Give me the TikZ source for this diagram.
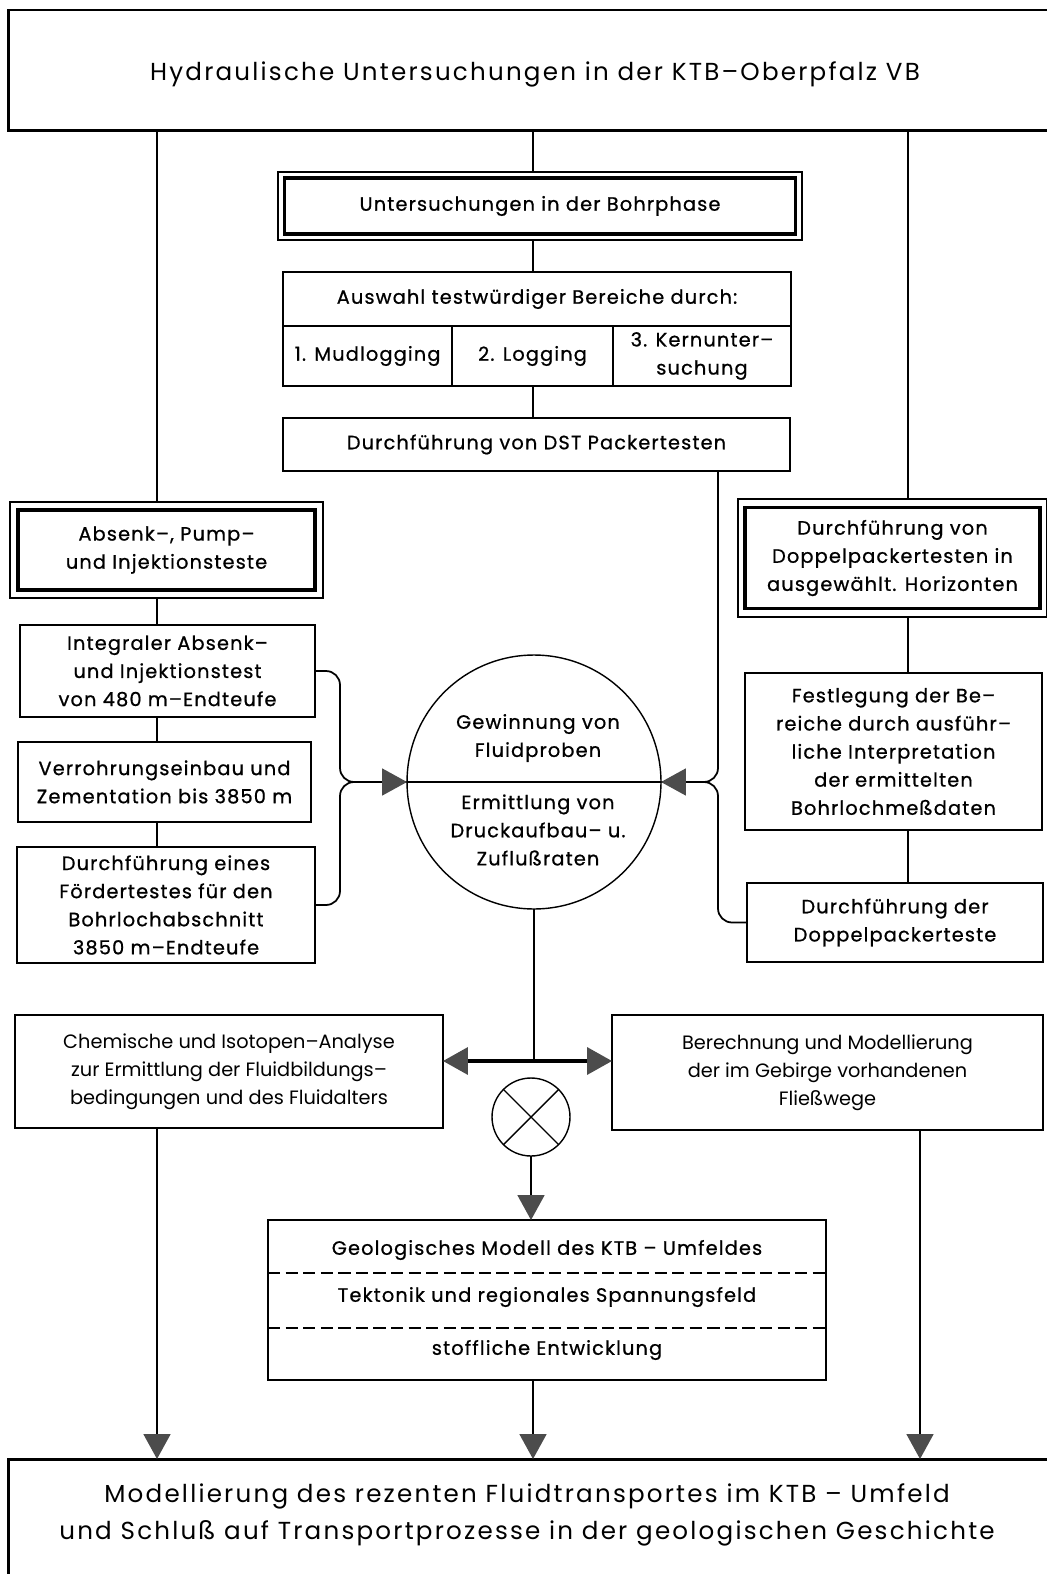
\documentclass[tikz,border=0pt]{standalone}
\usepackage{fontspec}
\setmainfont{Poppins}
\newfontfamily\boxfont{Poppins}[LetterSpace=6,FakeBold=0.8]
\newfontfamily\titlefont{Poppins}[LetterSpace=9]
\newfontfamily\plainfont{Poppins}
\usepackage{xcolor}
\usepackage{tikz}
\usetikzlibrary{calc,positioning,arrows.meta}

\definecolor{tipgray}{gray}{0.3}

\begin{document}
\begin{tikzpicture}[x=0.02cm,y=-0.02cm]

\useasboundingbox (0,0) rectangle (1047,1574);

\tikzstyle{box} = [draw, line width=1.1pt, rectangle, outer sep=0pt, inner sep=2pt, align=center, font=\boxfont\fontsize{11}{16}\selectfont]
\tikzstyle{plainbox} = [box, font=\plainfont\fontsize{11}{16}\selectfont]
\tikzstyle{inbox} = [box, line width=1.9pt]
\tikzstyle{frame} = [draw, line width=0.8pt, rectangle, outer sep=0pt]
\tikzstyle{bigbox} = [draw, line width=1.7pt, rectangle, outer sep=0pt]
\tikzstyle{bigtext} = [align=center, font=\titlefont\fontsize{14}{21}\selectfont]
\tikzstyle{smalltext} = [align=center, font=\boxfont\fontsize{11}{16}\selectfont]
\tikzstyle{link} = [line width=1pt]
\tikzstyle{tip} = [-{Triangle[length=0.5cm,width=0.54cm,color=tipgray]}]

% columns and junctions
\coordinate (colL) at (157,0);
\coordinate (colM) at (533,0);
\coordinate (colR) at (908,0);
\coordinate (colRb) at (920,0);
\coordinate (jL) at (340,782);
\coordinate (jR) at (718,782);
\coordinate (jD) at (534,1061);

% top
\node (top) [bigbox, minimum width=21.04cm, minimum height=2.42cm] at (534,70.5) {};
\node (toptext) [bigtext] at (535,74) {Hydraulische Untersuchungen in der KTB–Oberpfalz VB};

% middle column
\node (bohrF) [frame, minimum width=10.48cm, minimum height=1.36cm] at (540,206) {};
\node (bohr) [inbox, minimum width=10.22cm, minimum height=1.12cm] at (540,206) {Untersuchungen in der Bohrphase};

\node (auswahl) [box, minimum width=10.16cm, minimum height=1.08cm] at (537,299) {Auswahl testwürdiger Bereiche durch:};
\node (mud) [box, anchor=north west, minimum width=3.38cm, minimum height=1.2cm] at (auswahl.south west) {1. Mudlogging};
\node (logg) [box, anchor=north west, minimum width=3.22cm, minimum height=1.2cm] at (mud.north east) {2. Logging};
\node (kern) [box, anchor=north west, minimum width=3.56cm, minimum height=1.2cm] at (logg.north east) {3. Kernunter–\\suchung};

\node (dst) [box, minimum width=10.14cm, minimum height=1.06cm] at (536.5,444.5) {Durchführung von DST Packertesten};

% left column
\node (absenkF) [frame, minimum width=6.26cm, minimum height=1.92cm] at (166.5,550) {};
\node (absenk) [inbox, minimum width=5.94cm, minimum height=1.6cm] at (166.5,550) {Absenk–, Pump–\\und Injektionsteste};
\node (integ) [box, minimum width=5.9cm, minimum height=1.84cm] at (167.5,671) {Integraler Absenk–\\und Injektionstest\\von 480 m–Endteufe};
\node (verr) [box, minimum width=5.86cm, minimum height=1.6cm] at (164.5,782) {Verrohrungseinbau und\\Zementation bis 3850 m};
\node (durch) [box, minimum width=5.96cm, minimum height=2.32cm] at (166,905) {Durchführung eines\\Fördertestes für den\\Bohrlochabschnitt\\3850 m–Endteufe};

% right column
\node (doppF) [frame, minimum width=6.18cm, minimum height=2.36cm] at (892.5,558) {};
\node (dopp) [inbox, minimum width=5.9cm, minimum height=2.02cm] at (892.5,558) {Durchführung von\\Doppelpackertesten in\\ausgewählt. Horizonten};
\node (fest) [box, minimum width=5.94cm, minimum height=3.14cm] at (893.5,751.5) {Festlegung der Be–\\reiche durch ausführ–\\liche Interpretation\\der ermittelten\\Bohrlochmeßdaten};
\node (dpt) [box, minimum width=5.92cm, minimum height=1.58cm] at (895,922.5) {Durchführung der\\Doppelpackerteste};

% circle
\node (circ) [draw, circle, line width=0.8pt, minimum size=5.08cm, outer sep=0pt] at (534,782) {};
\node (gew) [smalltext] at (538,738) {Gewinnung von\\Fluidproben};
\node (erm) [smalltext] at (538,830) {Ermittlung von\\Druckaufbau– u.\\Zuflußraten};
\draw [link] (circ.west) -- (circ.east);

% lower part
\node (chem) [plainbox, minimum width=8.56cm, minimum height=2.26cm] at (229,1071.5) {Chemische und Isotopen–Analyse\\zur Ermittlung der Fluidbildungs–\\bedingungen und des Fluidalters};
\node (ber) [plainbox, minimum width=8.62cm, minimum height=2.3cm] at (827.5,1072.5) {Berechnung und Modellierung\\der im Gebirge vorhandenen\\Fließwege};
\node (xc) [draw, circle, line width=0.8pt, minimum size=1.56cm, outer sep=0pt] at (531,1117) {};
\draw [line width=0.8pt] (xc.north west) -- (xc.south east);
\draw [line width=0.8pt] (xc.north east) -- (xc.south west);

\node (geo) [box, minimum width=11.16cm, minimum height=3.2cm] at (547,1300) {};
\node (geoA) [smalltext] at (547,1250) {Geologisches Modell des KTB – Umfeldes};
\node (geoB) [smalltext] at (547,1297) {Tektonik und regionales Spannungsfeld};
\node (geoC) [smalltext] at (547,1350) {stoffliche Entwicklung};
\draw [line width=0.8pt, dash pattern=on 7pt off 3pt] ($(geo.north west)+(0,53)$) -- ($(geo.north east)+(0,53)$);
\draw [line width=0.8pt, dash pattern=on 7pt off 3pt] ($(geo.north west)+(0,108)$) -- ($(geo.north east)+(0,108)$);

% bottom
\node (bottom) [bigbox, minimum width=21.04cm, minimum height=2.84cm] at (534,1530) {};
\node (bottomtext) [bigtext] at (527,1515) {Modellierung des rezenten Fluidtransportes im KTB – Umfeld\\und Schluß auf Transportprozesse in der geologischen Geschichte};

% connections
\draw [link] (top.south -| colL) -- (absenkF.north -| colL);
\draw [link] (top.south -| colM) -- (bohrF.north -| colM);
\draw [link] (top.south -| colR) -- (doppF.north -| colR);
\draw [link] (bohrF.south -| colM) -- (auswahl.north -| colM);
\draw [link] (logg.south -| colM) -- (dst.north -| colM);
\draw [link] (absenkF.south -| colL) -- (integ.north -| colL);
\draw [link] (integ.south -| colL) -- (verr.north -| colL);
\draw [link] (verr.south -| colL) -- (durch.north -| colL);
\draw [link] (doppF.south -| colR) -- (fest.north -| colR);
\draw [link] (fest.south -| colR) -- (dpt.north -| colR);

\draw [link, rounded corners=8pt] (durch.east) -| (jL) -- (circ.west);
\draw [link, tip, rounded corners=8pt] (integ.east) -| (jL) -- (circ.west);
\draw [link, rounded corners=8pt] (dpt.west) -| (jR) -- (circ.east);
\draw [link, tip, rounded corners=8pt] (dst.south -| jR) -- (jR) -- (circ.east);

\draw [link] (circ.south) -- (jD);
\draw [line width=2pt, {Triangle[length=0.5cm,width=0.54cm,color=tipgray]}-{Triangle[length=0.5cm,width=0.54cm,color=tipgray]}] (chem.east |- jD) -- (ber.west |- jD);
\draw [link, tip] (xc.south) -- (xc.south |- geo.north);

\draw [link, tip] (chem.south -| colL) -- (bottom.north -| colL);
\draw [link, tip] (geo.south -| colM) -- (bottom.north -| colM);
\draw [link, tip] (ber.south -| colRb) -- (bottom.north -| colRb);

\end{tikzpicture}
\end{document}
